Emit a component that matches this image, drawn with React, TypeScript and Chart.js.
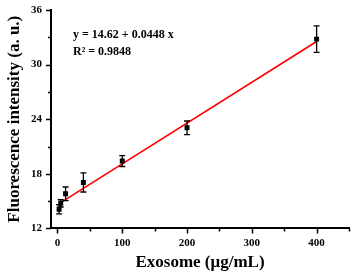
import React, { useEffect, useRef } from "react";
import { Chart, registerables } from "chart.js";

Chart.register(...registerables);

const concentrations = [2.5, 5, 12.5, 40, 100, 200, 400];
const intensities = [14.1, 14.75, 15.8, 17.05, 19.4, 23.05, 32.8];
const errors = [0.5, 0.4, 0.75, 1.05, 0.6, 0.75, 1.45];
const fitX = [2.5, 400];
const fitY = [14.73, 32.54];
const xMajorTicks = [0, 100, 200, 300, 400];
const xMinorTicks = [50, 150, 250, 350, 450];
const yMajorTicks = [12, 18, 24, 30, 36];
const yMinorTicks = [15, 21, 27, 33];
const equationLines = ["y = 14.62 + 0.0448 x", "R² = 0.9848"];

const FONT = "'Liberation Serif', 'Times New Roman', serif";

const errorBarPlugin = {
  id: "errorBars",
  afterDatasetsDraw(chart: any) {
    const ctx = chart.ctx;
    const xs = chart.scales.x;
    const ys = chart.scales.y;
    ctx.save();
    ctx.strokeStyle = "#000";
    ctx.lineWidth = 1.3;
    concentrations.forEach((c, i) => {
      const px = xs.getPixelForValue(c);
      const top = ys.getPixelForValue(intensities[i] + errors[i]);
      const bot = ys.getPixelForValue(intensities[i] - errors[i]);
      ctx.beginPath();
      ctx.moveTo(px, top);
      ctx.lineTo(px, bot);
      ctx.moveTo(px - 3, top);
      ctx.lineTo(px + 3, top);
      ctx.moveTo(px - 3, bot);
      ctx.lineTo(px + 3, bot);
      ctx.stroke();
    });
    ctx.restore();
  },
};

const ticksPlugin = {
  id: "customTicks",
  afterDraw(chart: any) {
    const ctx = chart.ctx;
    const xs = chart.scales.x;
    const ys = chart.scales.y;
    const area = chart.chartArea;
    ctx.save();
    ctx.strokeStyle = "#000";
    ctx.lineWidth = 1.5;
    ctx.beginPath();
    xMajorTicks.forEach((v) => {
      const p = Math.round(xs.getPixelForValue(v)) + 0.5;
      ctx.moveTo(p, area.bottom);
      ctx.lineTo(p, area.bottom + 5);
    });
    xMinorTicks.forEach((v) => {
      const p = Math.round(xs.getPixelForValue(v)) + 0.5;
      ctx.moveTo(p, area.bottom);
      ctx.lineTo(p, area.bottom + 3);
    });
    yMajorTicks.forEach((v) => {
      const p = Math.round(ys.getPixelForValue(v)) + 0.5;
      ctx.moveTo(area.left, p);
      ctx.lineTo(area.left - 5, p);
    });
    yMinorTicks.forEach((v) => {
      const p = Math.round(ys.getPixelForValue(v)) + 0.5;
      ctx.moveTo(area.left, p);
      ctx.lineTo(area.left - 3, p);
    });
    ctx.stroke();

    ctx.fillStyle = "#000";
    ctx.font = `bold 12px ${FONT}`;
    ctx.textAlign = "left";
    ctx.textBaseline = "middle";
    ctx.fillText(equationLines[0], area.left + 22, area.top + 25);
    ctx.fillText(equationLines[1], area.left + 22, area.top + 42);
    ctx.restore();
  },
};

export default function App() {
  const ref = useRef<HTMLCanvasElement | null>(null);
  useEffect(() => {
    document.body.style.margin = "0";
    const canvas = ref.current;
    if (!canvas) return;
    const chart = new Chart(canvas, {
      type: "scatter",
      data: {
        datasets: [
          {
            type: "line",
            data: fitX.map((x, i) => ({ x, y: fitY[i] })),
            borderColor: "#ff0000",
            borderWidth: 1.6,
            pointRadius: 0,
            fill: false,
            order: 2,
          } as any,
          {
            data: concentrations.map((x, i) => ({ x, y: intensities[i] })),
            backgroundColor: "#000",
            borderColor: "#000",
            pointStyle: "rect",
            pointRadius: 3.5,
            borderWidth: 0,
            order: 1,
          },
        ],
      },
      options: {
        animation: false,
        responsive: false,
        devicePixelRatio: 1,
        layout: { padding: { top: 10, right: 6, left: 4, bottom: 0 } },
        plugins: { legend: { display: false }, tooltip: { enabled: false } },
        scales: {
          x: {
            type: "linear",
            min: -10,
            max: 450,
            afterBuildTicks: (axis: any) => {
              axis.ticks = xMajorTicks.map((v) => ({ value: v }));
            },
            grid: { display: false, drawTicks: false },
            border: { display: true, color: "#000", width: 2 },
            ticks: {
              padding: 8,
              color: "#000",
              font: { family: FONT, size: 11, weight: "bold" },
              maxRotation: 0,
            },
            title: {
              display: true,
              text: "Exosome (μg/mL)",
              color: "#000",
              font: { family: FONT, size: 17, weight: "bold" },
              padding: { top: -5, bottom: 0 },
            },
          },
          y: {
            type: "linear",
            min: 12,
            max: 36,
            afterBuildTicks: (axis: any) => {
              axis.ticks = yMajorTicks.map((v) => ({ value: v }));
            },
            grid: { display: false, drawTicks: false },
            border: { display: true, color: "#000", width: 2 },
            ticks: {
              padding: 9,
              color: "#000",
              font: { family: FONT, size: 11, weight: "bold", lineHeight: 0.1 },
            },
            title: {
              display: true,
              text: "Fluorescence intensity (a. u.)",
              color: "#000",
              font: { family: FONT, size: 17, weight: "bold" },
              padding: { top: 0, bottom: -2.4 },
            },
          },
        },
      },
      plugins: [errorBarPlugin, ticksPlugin],
    });
    return () => chart.destroy();
  }, []);
  return (
    <div style={{ position: "fixed", left: 0, top: 0, width: 355, height: 273, background: "#fff" }}>
      <canvas ref={ref} width={355} height={273} style={{ width: 355, height: 273 }} />
    </div>
  );
}
